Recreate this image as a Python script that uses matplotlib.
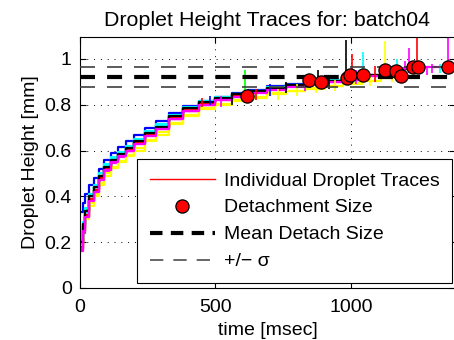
#!/usr/bin/env python

import matplotlib
matplotlib.use('Agg')
import matplotlib.pyplot as plt
from matplotlib.lines import Line2D
import numpy as np

#
# Data
#
batch_name = 'batch04'

# common sampling times of the height traces [msec]
trace_t = [0, 10, 20, 35, 50, 70, 90, 115, 140, 170, 200, 240, 280, 330, 380,
           440, 500, 560, 620, 690, 760, 830, 900, 970, 1040, 1110, 1180, 1250,
           1320, 1380]

# detachment of every droplet: time [msec], height [mm], trace colour
detach_t = [617, 847, 890, 986, 998, 1045, 1127, 1168, 1183, 1230, 1246, 1359]
detach_h = [0.839, 0.908, 0.899, 0.918, 0.930, 0.930, 0.952, 0.948, 0.926,
            0.966, 0.966, 0.966]
trace_colors = ['g', 'b', 'k', 'c', 'r', 'y', 'm', 'y', 'c', 'r', 'k', 'm']

# heights [mm] on trace_t, up to detachment
trace_h = [
    [0.20, 0.28, 0.34, 0.40, 0.44, 0.49, 0.53, 0.56, 0.59, 0.615, 0.645, 0.68,
     0.71, 0.75, 0.785, 0.81, 0.825, 0.835],
    [0.33, 0.37, 0.41, 0.45, 0.48, 0.52, 0.56, 0.59, 0.615, 0.64, 0.67, 0.70,
     0.73, 0.765, 0.795, 0.815, 0.835, 0.85, 0.865, 0.88, 0.89, 0.90],
    [0.19, 0.27, 0.33, 0.39, 0.44, 0.49, 0.53, 0.56, 0.585, 0.61, 0.64, 0.675,
     0.705, 0.75, 0.78, 0.81, 0.83, 0.845, 0.86, 0.875, 0.885, 0.895],
    [0.19, 0.27, 0.33, 0.40, 0.44, 0.49, 0.535, 0.565, 0.59, 0.615, 0.645, 0.68,
     0.71, 0.75, 0.785, 0.81, 0.83, 0.845, 0.86, 0.875, 0.887, 0.897, 0.907, 0.915],
    [0.17, 0.25, 0.31, 0.38, 0.43, 0.475, 0.515, 0.55, 0.575, 0.60, 0.635, 0.67,
     0.70, 0.74, 0.775, 0.80, 0.825, 0.84, 0.855, 0.87, 0.882, 0.893, 0.905, 0.92],
    [0.17, 0.24, 0.30, 0.36, 0.40, 0.45, 0.49, 0.525, 0.55, 0.575, 0.60, 0.64,
     0.67, 0.715, 0.75, 0.78, 0.80, 0.815, 0.83, 0.845, 0.86, 0.87, 0.88, 0.89,
     0.905],
    [0.16, 0.24, 0.31, 0.38, 0.42, 0.47, 0.51, 0.545, 0.57, 0.60, 0.63, 0.665,
     0.695, 0.74, 0.775, 0.80, 0.82, 0.84, 0.855, 0.87, 0.88, 0.89, 0.90, 0.91,
     0.925, 0.94],
    [0.18, 0.25, 0.31, 0.37, 0.41, 0.46, 0.50, 0.53, 0.555, 0.58, 0.61, 0.645,
     0.68, 0.72, 0.755, 0.785, 0.805, 0.82, 0.835, 0.85, 0.862, 0.873, 0.884,
     0.895, 0.905, 0.915],
    [0.21, 0.29, 0.35, 0.41, 0.45, 0.50, 0.54, 0.57, 0.595, 0.62, 0.65, 0.685,
     0.715, 0.755, 0.79, 0.815, 0.832, 0.848, 0.862, 0.876, 0.888, 0.898, 0.908,
     0.918, 0.928, 0.935, 0.93],
    [0.18, 0.26, 0.32, 0.39, 0.43, 0.48, 0.52, 0.555, 0.58, 0.605, 0.635, 0.67,
     0.70, 0.745, 0.78, 0.805, 0.825, 0.84, 0.855, 0.87, 0.882, 0.893, 0.903,
     0.915, 0.93, 0.945, 0.955],
    [0.20, 0.28, 0.335, 0.40, 0.44, 0.49, 0.53, 0.56, 0.585, 0.61, 0.64, 0.675,
     0.705, 0.75, 0.785, 0.81, 0.83, 0.845, 0.86, 0.873, 0.885, 0.895, 0.905,
     0.915, 0.928, 0.94, 0.955],
    [0.17, 0.25, 0.31, 0.38, 0.42, 0.47, 0.515, 0.55, 0.575, 0.60, 0.63, 0.665,
     0.695, 0.74, 0.775, 0.80, 0.82, 0.835, 0.85, 0.865, 0.878, 0.89, 0.90, 0.91,
     0.925, 0.945, 0.96, 0.965, 0.965],
]

# noise spikes on the traces: time, low, high, colour
spike_t = [450, 480, 520, 560, 610, 650, 700, 730, 760, 800, 830, 870, 880,
           920, 940, 980, 1003, 1020, 1046, 1070, 1090, 1127, 1150, 1170, 1200,
           1215, 1245, 1280, 1300, 1330, 1360]
spike_lo = [0.79, 0.80, 0.79, 0.80, 0.84, 0.82, 0.84, 0.82, 0.85, 0.84, 0.86,
            0.85, 0.90, 0.87, 0.86, 0.91, 0.92, 0.89, 0.92, 0.88, 0.90, 0.93,
            0.90, 0.92, 0.92, 0.94, 0.95, 0.93, 0.94, 0.94, 0.96]
spike_hi = [0.83, 0.84, 0.84, 0.85, 0.95, 0.87, 0.89, 0.87, 0.90, 0.89, 0.91,
            0.90, 0.95, 0.93, 0.91, 1.085, 1.02, 0.95, 1.03, 0.93, 0.97, 1.08,
            0.96, 1.00, 0.99, 1.05, 1.10, 0.97, 0.98, 0.98, 1.10]
spike_colors = ['r', 'b', 'm', 'k', 'g', 'r', 'b', 'y', 'k', 'y', 'm', 'y', 'k',
                'k', 'y', 'k', 'r', 'm', 'c', 'y', 'r', 'y', 'y', 'c', 'm', 'm',
                'r', 'm', 'm', 'c', 'm']

mean_detach = 0.923
sigma_detach = 0.0435

# plain rgb colour letters
rgb = {'r': '#ff0000', 'g': '#00ff00', 'b': '#0000ff', 'c': '#00ffff',
       'm': '#ff00ff', 'y': '#ffff00', 'k': '#000000'}

#
# RC params
#
plt.rcParams['font.family'] = ['Liberation Sans', 'DejaVu Sans']
plt.rcParams['font.size'] = 14
plt.rcParams['axes.linewidth'] = 0.8

fig = plt.figure(figsize=(4.54, 3.40), dpi=100)
ax = fig.add_axes([80/454, 1 - 288/340, (455 - 80)/454, (288 - 37)/340])

#
# Traces
#
for h, tdet, hdet, c in zip(trace_h, detach_t, detach_h, trace_colors):
    t = trace_t[:len(h)] + [tdet]
    y = h + [hdet]
    ax.plot(t, y, color=rgb[c], lw=1.6, drawstyle='steps-post', zorder=2)

ax.vlines(spike_t, spike_lo, spike_hi, colors=[rgb[c] for c in spike_colors],
          lw=1.2, zorder=2)

xr = [0, 1384]
ax.plot(xr, [mean_detach]*2, color='k', lw=3, dashes=(3.6, 2.9), zorder=3)
ax.plot(xr, [mean_detach + sigma_detach]*2, color='0.25', lw=1.2, dashes=(9, 7.2), zorder=3)
ax.plot(xr, [mean_detach - sigma_detach]*2, color='0.25', lw=1.2, dashes=(9, 7.2), zorder=3)

ax.plot(detach_t, detach_h, 'o', ms=9.5, mfc='r', mec='k', mew=0.9, zorder=4)

#
# Axes
#
ax.set_xlim(xr)
ax.set_ylim(0, 1.096)
ax.set_xticks([0, 500, 1000])
ax.set_yticks([0, 0.2, 0.4, 0.6, 0.8, 1])
ax.set_yticklabels(['0', '0.2', '0.4', '0.6', '0.8', '1'])
ax.grid(True, color='k', lw=0.7, linestyle=(0, (1, 6)))
ax.tick_params(direction='in', length=4, top=True, right=True, width=0.8)
ax.tick_params(axis='y', pad=6)
ax.tick_params(axis='x', pad=8)
ax.set_xlabel('time [msec]', labelpad=4)
ax.set_ylabel('Droplet Height [mm]', labelpad=4)
ax.set_title('Droplet Height Traces for: ' + batch_name, fontsize=15.4, pad=8)

handles = [
    Line2D([], [], color='r', lw=1),
    Line2D([], [], ls='none', marker='o', ms=9.5, mfc='r', mec='k', mew=0.9),
    Line2D([], [], color='k', lw=3, dashes=(3.0, 2.0)),
    Line2D([], [], color='0.3', lw=1.2, dashes=(8, 6)),
]
labels = ['Individual Droplet Traces', 'Detachment Size', 'Mean Detach Size', '+/\u2212 \u03c3']
leg = ax.legend(handles, labels, loc='lower right', bbox_to_anchor=(452/454, 1 - 283/340),
                bbox_transform=fig.transFigure, borderaxespad=0, fancybox=False,
                framealpha=1, edgecolor='k', handlelength=3.35, handletextpad=0.45,
                borderpad=0.65, labelspacing=0.48)
leg.get_frame().set_linewidth(0.8)
leg.set_zorder(5)

fig.savefig('out.png', dpi=100)
